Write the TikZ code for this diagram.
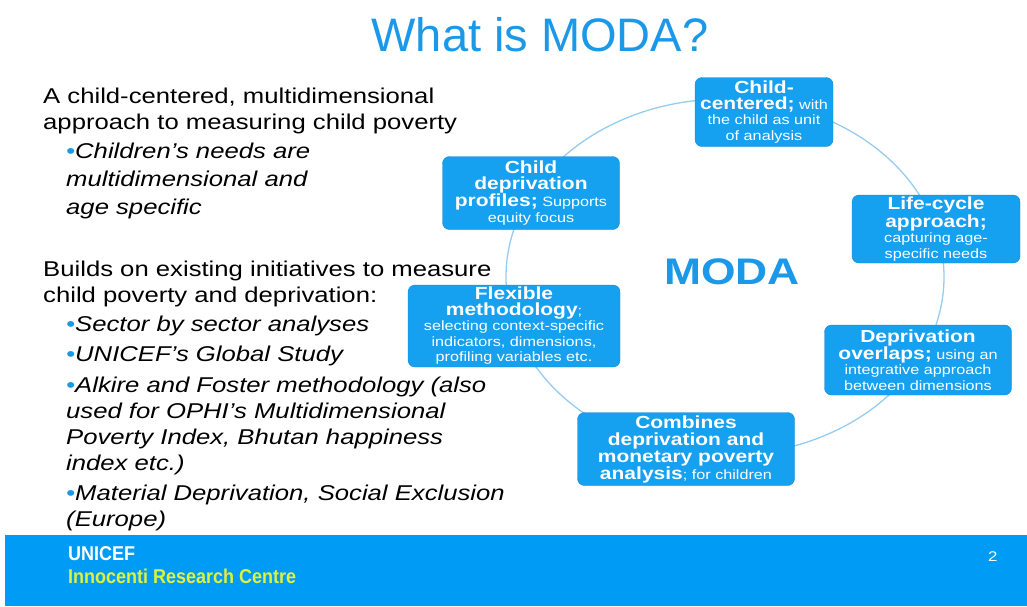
\documentclass[tikz,border=0pt]{standalone}
\usepackage{fontspec}
\setmainfont[FakeStretch=1.2]{Liberation Sans}
\newfontfamily\titlefont{Liberation Sans}
\newfontfamily\footfont[FakeStretch=0.9]{Liberation Sans}
\usetikzlibrary{positioning}
\definecolor{modablue}{RGB}{28,152,232}
\definecolor{boxblue}{RGB}{22,160,240}
\definecolor{barblue}{RGB}{0,155,245}
\definecolor{ringblue}{RGB}{150,205,238}
\definecolor{unicefyellow}{RGB}{222,242,60}
\tikzstyle{feature} = [rectangle, rounded corners=7pt, fill=boxblue, draw=boxblue!85!black, text=white, align=center, inner sep=2pt, font=\fontsize{13.5}{15.5}\selectfont]
\tikzstyle{body} = [anchor=base west, align=left, inner sep=0pt, font=\fontsize{21.4}{26}\selectfont]
\tikzstyle{item} = [body, font=\fontsize{21.4}{26}\selectfont\itshape]
\tikzstyle{foot} = [anchor=base west, inner sep=0pt, font=\footfont\fontsize{20}{20}\selectfont\bfseries]
\newcommand{\hd}[1]{{\fontsize{17.5}{17}\selectfont\bfseries #1}}
\newcommand{\dotb}{{\color{modablue}\textbullet}}

\begin{document}
\begin{tikzpicture}[x=1pt, y=-1pt]
	\useasboundingbox (0,0) rectangle (1027,606);
	\node (title) at (540,35) [text=modablue, font=\titlefont\fontsize{47}{50}\selectfont] {What is MODA?};
	% left column (placed at the baseline of the last line)
	\node (intro) [body] at (43,129) {A child-centered, multidimensional\\approach to measuring child poverty};
	\node (needs) [item, font=\fontsize{21.4}{28}\selectfont\itshape] at (66,214) {\dotb Children’s needs are\\multidimensional and\\age specific};
	\node (builds) [body] at (43,302) {Builds on existing initiatives to measure\\child poverty and deprivation:};
	\node (sector) [item] at (66,331) {\dotb Sector by sector analyses};
	\node (global) [item] at (66,361) {\dotb UNICEF’s Global Study};
	\node (alkire) [item] at (66,470) {\dotb Alkire and Foster methodology (also\\used for OPHI’s Multidimensional\\Poverty Index, Bhutan happiness\\index etc.)};
	\node (material) [item] at (66,526) {\dotb Material Deprivation, Social Exclusion\\(Europe)};
	% ring
	\coordinate (ring) at (725,277);
	\draw [ringblue, line width=1.3pt] (ring) ellipse [x radius=219pt, y radius=178pt];
	\node (moda) at (732,272) [text=modablue, font=\fontsize{37}{40}\selectfont\bfseries] {MODA};
	\node (centered) [feature, minimum width=138pt, minimum height=69pt] at (764,112) {\hd{Child-}\\\hd{centered;} with\\the child as unit\\of analysis};
	\node (lifecycle) [feature, minimum width=168pt, minimum height=68pt] at (936,229) {\hd{Life-cycle}\\\hd{approach;}\\capturing age-\\specific needs};
	\node (overlaps) [feature, minimum width=187pt, minimum height=70pt] at (918,360) {\hd{Deprivation}\\\hd{overlaps;} using an\\integrative approach\\between dimensions};
	\node (combines) [feature, minimum width=217pt, minimum height=73pt, font=\fontsize{13.5}{17}\selectfont] at (686,449) {\hd{Combines}\\\hd{deprivation and}\\\hd{monetary poverty}\\\hd{analysis}; for children};
	\node (flexible) [feature, minimum width=212pt, minimum height=82pt] at (514,326) {\hd{Flexible}\\\hd{methodology};\\selecting context-specific\\indicators, dimensions,\\profiling variables etc.};
	\node (profiles) [feature, minimum width=177pt, minimum height=73pt, font=\fontsize{13.5}{16}\selectfont] at (531,193) {\hd{Child}\\\hd{deprivation}\\\hd{profiles;} Supports\\equity focus};
	% footer
	\fill [barblue] (5,535) rectangle (1027,606);
	\node (unicef) [foot, text=white] at (68,560) {UNICEF};
	\node (irc) [foot, text=unicefyellow] at (68,583) {Innocenti Research Centre};
	\node (page) [foot, text=white, font=\fontsize{14}{14}\selectfont] at (988,561) {2};
\end{tikzpicture}
\end{document}
